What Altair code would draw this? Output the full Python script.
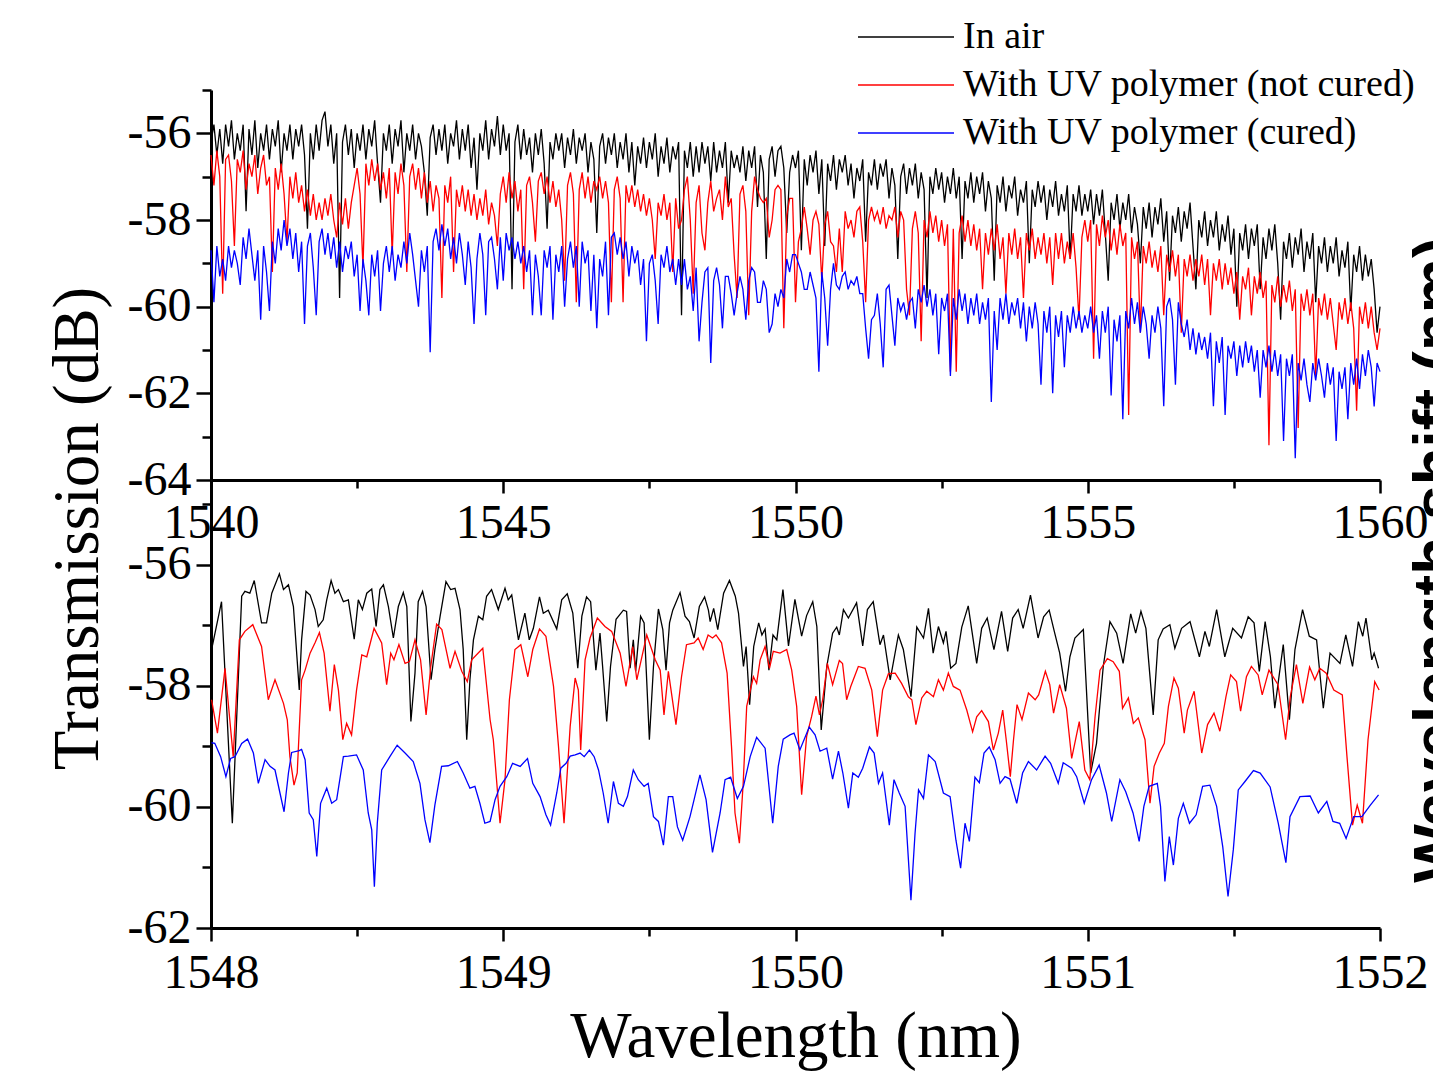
import altair as alt
import pandas as pd

FONT = "Liberation Serif"
SERIES = ["In air", "With UV polymer (not cured)", "With UV polymer (cured)"]
COLORS = ["#000000", "#ff0000", "#0000ff"]
RIGHT_LABEL = "Wavelength shift (nm)"
Y_TITLE = "Transmission (dB)"
X_TITLE = "Wavelength (nm)"

# ---------------- top panel: 1540-1560 nm, sampled every 0.05 nm ----------------
TOP_START = 1540.0
TOP_STEP = 0.05
TOP_AIR = [
    -56.2, -55.8, -56.5, -55.9, -56.7, -55.8, -56.3, -55.7, -56.6, -56.0, -56.4, -55.8, -57.8, -55.9, -56.5, -55.7, -56.8, -56.0, -56.4, -55.8,
    -56.6, -55.9, -56.3, -55.7, -56.9, -56.0, -56.4, -55.8, -56.6, -55.9, -56.3, -55.8, -56.5, -58.2, -56.0, -56.6, -55.8, -56.4, -55.7, -55.5,
    -56.3, -55.8, -56.7, -56.0, -59.8, -56.2, -55.8, -56.5, -55.9, -56.8, -56.0, -56.4, -55.8, -56.6, -55.9, -56.3, -55.7, -56.7, -57.6, -56.0,
    -56.4, -55.8, -56.7, -55.9, -56.3, -55.7, -56.9, -56.0, -56.4, -55.8, -56.6, -56.0, -56.3, -56.9, -57.9, -56.1, -55.8, -56.5, -55.9, -56.4,
    -55.8, -56.7, -56.0, -56.3, -55.7, -56.6, -55.9, -56.4, -55.8, -56.8, -56.1, -57.3, -56.0, -56.4, -55.7, -56.6, -55.9, -56.3, -55.6, -56.5,
    -55.8, -56.4, -56.0, -59.6, -56.2, -55.8, -56.6, -55.9, -56.5, -56.1, -56.9, -56.0, -56.5, -55.9, -56.7, -58.2, -56.2, -56.6, -56.0, -56.4,
    -56.0, -56.8, -56.1, -56.5, -55.9, -56.7, -56.1, -56.4, -56.0, -56.9, -56.2, -56.6, -58.3, -56.3, -56.0, -56.7, -56.1, -56.5, -56.0, -56.8,
    -56.2, -56.6, -56.0, -56.9, -56.2, -57.2, -56.3, -56.7, -56.1, -56.8, -56.2, -56.6, -56.0, -57.0, -56.3, -56.7, -56.1, -56.9, -56.3, -56.6,
    -56.2, -60.2, -56.4, -56.8, -56.2, -57.0, -56.3, -56.9, -56.2, -56.7, -56.3, -57.1, -56.2, -56.9, -56.4, -56.8, -56.2, -57.6, -56.4, -56.8,
    -56.5, -56.9, -56.3, -57.1, -56.4, -56.8, -56.3, -57.7, -56.5, -56.9, -58.9, -56.6, -56.3, -57.0, -56.4, -56.3, -56.8, -58.3, -56.9, -56.5,
    -56.8, -56.4, -58.7, -56.6, -57.2, -56.5, -56.9, -56.4, -57.4, -56.6, -58.6, -56.7, -57.1, -56.5, -57.3, -56.6, -56.9, -56.5, -57.2, -56.7,
    -57.5, -56.8, -57.1, -56.6, -58.5, -56.9, -57.2, -56.6, -57.3, -56.7, -57.0, -56.6, -57.5, -56.8, -57.2, -58.9, -57.0, -56.7, -57.4, -56.8,
    -57.2, -56.7, -57.5, -56.9, -57.3, -59.8, -57.0, -57.4, -56.8, -57.3, -56.9, -57.6, -57.0, -57.4, -56.8, -57.5, -57.0, -58.9, -57.1, -57.5,
    -56.9, -57.6, -57.0, -57.4, -56.9, -57.8, -57.1, -57.5, -59.4, -57.2, -57.6, -57.0, -57.8, -57.2, -57.5, -57.0, -57.9, -57.3, -57.6, -57.1,
    -59.0, -57.3, -57.7, -57.1, -57.6, -57.2, -58.0, -57.3, -57.7, -57.1, -57.9, -57.4, -57.8, -57.2, -58.9, -57.4, -57.8, -57.2, -57.9, -57.4,
    -57.8, -57.3, -58.1, -57.4, -57.9, -57.3, -58.3, -59.4, -57.6, -58.0, -57.4, -58.2, -57.6, -58.0, -57.4, -58.3, -57.7, -58.1, -59.0, -57.7,
    -58.2, -57.6, -58.4, -57.7, -58.1, -57.5, -58.5, -57.8, -59.4, -57.9, -58.3, -57.7, -58.5, -57.8, -58.2, -57.6, -58.6, -59.6, -58.0, -58.4,
    -57.8, -58.6, -58.0, -58.4, -57.8, -58.7, -58.1, -58.5, -57.9, -58.8, -58.2, -60.0, -58.3, -58.7, -58.1, -58.9, -58.2, -58.6, -58.1, -59.6,
    -58.4, -58.9, -58.2, -58.7, -58.1, -59.0, -60.3, -58.5, -58.9, -58.3, -59.1, -58.4, -58.8, -58.2, -59.2, -58.5, -58.9, -58.3, -59.9, -58.6,
    -59.0, -58.4, -59.2, -58.6, -59.0, -58.4, -59.3, -58.7, -59.1, -58.5, -60.1, -58.8, -59.2, -58.6, -59.4, -58.8, -59.3, -58.9, -59.6, -60.6,
    -60.0,
]
TOP_UNCURED = [
    -56.5, -57.2, -56.4, -57.0, -59.7, -56.6, -56.5, -57.1, -58.6, -56.6, -56.9, -56.4, -57.3, -56.7, -57.0, -56.5, -57.4, -56.8, -56.5, -57.2,
    -57.0, -59.2, -56.8, -57.3, -56.7, -57.4, -58.5, -57.0, -57.5, -56.9, -57.6, -57.2, -57.8, -57.3, -57.9, -57.4, -58.0, -57.6, -58.0, -57.5,
    -57.9, -57.4, -58.0, -58.4, -57.6, -58.1, -57.5, -58.2, -57.6, -57.2, -56.8, -57.4, -59.1, -56.7, -57.2, -56.6, -57.1, -56.7, -57.3, -56.9,
    -57.5, -56.8, -58.8, -56.9, -57.4, -56.7, -57.2, -59.2, -57.0, -56.7, -57.3, -56.8, -57.5, -56.9, -57.6, -57.1, -57.8, -57.2, -57.5, -59.8,
    -57.2, -57.6, -57.0, -59.2, -57.3, -57.7, -57.2, -57.8, -57.3, -57.9, -57.4, -58.0, -57.5, -57.9, -57.3, -58.1, -57.6, -57.9, -58.6, -57.4,
    -57.0, -57.6, -56.9, -57.5, -57.1, -57.8, -57.3, -59.6, -57.2, -57.0, -57.6, -58.5, -57.1, -56.9, -57.4, -57.0, -57.6, -57.1, -57.7, -57.3,
    -58.0, -59.4, -57.2, -56.9, -57.4, -59.9, -57.3, -56.9, -57.5, -57.0, -57.6, -57.1, -57.3, -57.0, -57.5, -57.1, -57.6, -59.9, -57.3, -57.0,
    -57.5, -59.9, -57.2, -57.6, -57.2, -57.7, -57.3, -57.8, -57.4, -57.9, -57.5, -58.0, -58.9, -57.6, -57.9, -57.4, -58.0, -57.6, -59.2, -57.5,
    -58.2, -58.0, -57.3, -57.0, -58.0, -59.7, -57.6, -57.2, -58.3, -58.7, -57.6, -57.1, -57.8, -57.5, -57.3, -58.0, -57.0, -57.7, -57.5, -58.8,
    -59.8, -57.4, -57.2, -57.8, -60.2, -57.8, -57.0, -57.3, -57.5, -57.6, -57.5, -58.4, -58.0, -57.3, -57.2, -57.3, -60.5, -57.9, -57.5, -57.5,
    -59.9, -58.5, -58.2, -57.7, -58.2, -58.8, -58.0, -57.8, -58.1, -59.4, -58.1, -57.8, -58.5, -58.6, -59.2, -58.2, -59.2, -57.8, -58.2, -58.0,
    -58.4, -57.8, -57.7, -58.5, -59.9, -58.0, -57.7, -58.0, -57.8, -58.1, -57.7, -58.2, -57.9, -58.0, -57.7, -58.4, -57.8, -58.0, -59.6, -60.2,
    -58.2, -57.8, -58.3, -60.8, -58.0, -58.4, -57.8, -58.3, -57.9, -58.5, -58.0, -58.6, -58.1, -61.5, -58.2, -61.5, -58.3, -57.9, -58.5, -58.0,
    -58.6, -58.1, -58.7, -58.2, -59.6, -58.3, -58.8, -58.2, -58.7, -58.1, -58.9, -58.4, -59.7, -58.3, -58.8, -58.2, -58.9, -58.4, -59.8, -58.3,
    -58.7, -58.2, -58.9, -58.4, -58.8, -58.3, -59.0, -58.4, -59.5, -58.3, -58.9, -58.3, -59.0, -58.5, -58.9, -58.3, -59.1, -60.3, -58.4, -58.0,
    -58.5, -58.0, -61.2, -58.1, -58.6, -57.9, -58.4, -58.0, -58.7, -58.2, -58.8, -58.1, -58.6, -58.3, -62.5, -58.4, -58.9, -58.5, -60.6, -58.6,
    -59.0, -58.5, -59.1, -58.7, -59.2, -58.6, -60.2, -58.8, -59.2, -58.7, -59.3, -58.8, -60.6, -58.9, -59.3, -58.8, -59.4, -58.9, -59.3, -58.8,
    -59.5, -58.9, -60.2, -59.0, -59.4, -58.9, -59.6, -59.0, -59.5, -59.1, -59.7, -59.2, -60.3, -59.3, -59.6, -59.1, -60.2, -59.3, -59.7, -59.2,
    -59.8, -59.4, -63.2, -59.5, -59.9, -59.3, -60.0, -59.5, -59.9, -59.4, -60.1, -59.6, -62.8, -59.7, -60.1, -59.6, -60.2, -59.7, -61.6, -59.8,
    -60.2, -59.7, -60.3, -59.8, -60.4, -61.0, -59.9, -60.3, -59.8, -60.4, -59.9, -60.5, -62.4, -60.0, -60.4, -59.9, -60.5, -60.0, -60.6, -61.0,
    -60.5,
]
TOP_CURED = [
    -58.7, -59.9, -58.6, -59.3, -58.9, -59.4, -58.6, -59.1, -58.7, -59.0, -59.5, -58.4, -58.9, -58.2, -58.8, -59.4, -58.7, -60.3, -58.6, -59.2,
    -60.1, -58.5, -59.0, -58.2, -58.7, -58.0, -58.6, -58.2, -58.9, -58.3, -59.2, -58.5, -60.4, -58.6, -58.3, -59.1, -60.2, -58.5, -58.2, -58.8,
    -58.3, -58.9, -58.4, -59.1, -58.5, -59.2, -58.6, -58.9, -58.5, -59.3, -58.8, -60.1, -58.9, -59.4, -60.2, -58.8, -59.3, -58.7, -60.1, -59.0,
    -58.6, -59.2, -58.6, -59.4, -58.8, -59.1, -58.5, -59.0, -58.3, -58.8, -59.4, -60.0, -58.7, -59.2, -58.6, -61.05, -58.5, -58.2, -58.7, -58.1,
    -58.6, -58.2, -58.9, -58.4, -59.0, -58.3, -58.8, -59.5, -58.5, -59.1, -60.4, -58.9, -58.3, -58.8, -60.2, -58.5, -58.4, -58.9, -59.6, -58.4,
    -59.4, -58.3, -58.7, -58.4, -58.9, -58.5, -59.0, -58.6, -59.2, -58.7, -60.2, -58.8, -59.3, -60.2, -58.7, -59.1, -58.6, -60.3, -58.8, -59.2,
    -58.6, -60.0, -58.9, -58.5, -59.1, -58.6, -60.0, -58.5, -59.0, -58.7, -60.1, -58.8, -60.5, -58.9, -59.3, -58.5, -60.2, -58.4, -58.3, -58.8,
    -58.4, -58.9, -58.5, -59.3, -58.6, -59.0, -58.7, -59.5, -58.9, -60.8, -59.0, -58.8, -59.4, -60.4, -58.8, -59.1, -58.6, -59.2, -58.9, -59.5,
    -58.9, -59.5, -58.9, -59.6, -59.3, -60.1, -59.1, -60.8, -59.9, -59.2, -59.1, -61.3, -59.4, -59.1, -59.5, -60.5, -59.3, -59.3, -59.7, -60.2,
    -59.7, -59.3, -59.6, -60.3, -59.4, -59.1, -59.2, -59.9, -59.9, -59.4, -59.6, -60.6, -60.4, -59.7, -60.0, -59.6, -59.8, -58.9, -59.2, -58.8,
    -58.8, -59.0, -59.2, -59.6, -59.6, -59.2, -59.5, -59.8, -61.5, -59.2, -59.8, -60.9, -59.6, -59.0, -59.5, -59.6, -59.3, -59.2, -59.6, -59.4,
    -59.5, -59.3, -59.7, -59.7, -60.5, -61.2, -60.3, -60.2, -59.7, -60.4, -61.4, -59.6, -59.5, -60.2, -60.9, -59.8, -60.1, -59.9, -60.3, -59.9,
    -59.8, -60.5, -59.6, -59.9, -59.5, -60.0, -59.6, -60.2, -59.7, -61.1, -59.8, -60.1, -59.7, -61.6, -59.8, -60.3, -59.6, -60.1, -59.7, -60.4,
    -59.8, -60.2, -59.7, -60.4, -59.9, -60.3, -59.8, -62.2, -60.1, -61.0, -59.8, -60.3, -59.7, -60.4, -59.9, -60.2, -59.8, -60.5, -59.9, -60.8,
    -60.0, -60.5, -59.9, -60.4, -61.8, -60.1, -60.6, -60.0, -62.0, -60.2, -60.7, -60.1, -61.4, -60.2, -60.6, -60.0, -60.5, -60.1, -60.6, -60.2,
    -60.5, -60.0, -60.6, -60.2, -61.2, -60.1, -60.6, -60.0, -62.05, -60.3, -60.8, -60.2, -62.6, -60.1, -60.5, -59.8, -60.4, -59.9, -60.6, -60.0,
    -60.4, -61.2, -60.2, -60.6, -60.0, -60.5, -62.3, -60.0, -59.8, -60.3, -61.8, -59.9, -60.4, -60.7, -60.3, -61.0, -60.5, -61.1, -60.6, -61.0,
    -60.7, -61.2, -60.6, -62.3, -60.8, -61.3, -60.7, -62.5, -60.9, -61.2, -60.8, -61.6, -60.9, -61.4, -60.8, -61.3, -60.9, -61.5, -61.0, -62.1,
    -61.0, -61.4, -60.9, -61.5, -61.0, -61.6, -61.1, -63.1, -61.2, -61.6, -61.1, -63.5, -61.3, -61.7, -61.2, -61.8, -62.2, -61.3, -61.7, -61.2,
    -61.6, -62.1, -61.3, -61.8, -61.4, -63.1, -61.5, -61.9, -61.4, -62.6, -61.3, -61.8, -61.2, -61.9, -61.1, -61.6, -61.0, -61.4, -62.3, -61.3,
    -61.5,
]

# ---------------- bottom panel: zoom 1548-1552 nm ----------------
ZOOM_AIR_WL = [
    1548.002, 1548.036, 1548.073, 1548.105, 1548.116, 1548.133, 1548.148, 1548.173, 1548.190, 1548.208, 1548.234, 1548.248, 1548.265, 1548.282,
    1548.302, 1548.310, 1548.325, 1548.339, 1548.356, 1548.367, 1548.384, 1548.396, 1548.411, 1548.424, 1548.436, 1548.453, 1548.470, 1548.490,
    1548.504, 1548.518, 1548.533, 1548.550, 1548.565, 1548.578, 1548.590, 1548.607, 1548.624, 1548.641, 1548.658, 1548.670, 1548.684, 1548.698,
    1548.709, 1548.724, 1548.736, 1548.753, 1548.766, 1548.784, 1548.804, 1548.820, 1548.835, 1548.852, 1548.863, 1548.875, 1548.886, 1548.898,
    1548.915, 1548.930, 1548.943, 1548.960, 1548.983,
    1549.006, 1549.017, 1549.029, 1549.052, 1549.074, 1549.089, 1549.103, 1549.124, 1549.137, 1549.154, 1549.183, 1549.200, 1549.219, 1549.238,
    1549.255, 1549.269, 1549.285, 1549.299, 1549.317, 1549.331, 1549.340, 1549.354, 1549.367, 1549.386, 1549.411, 1549.422, 1549.434, 1549.445,
    1549.453, 1549.470, 1549.482, 1549.500, 1549.514, 1549.531, 1549.546, 1549.557, 1549.569, 1549.580, 1549.605, 1549.622, 1549.637, 1549.653,
    1549.671, 1549.689, 1549.702, 1549.708, 1549.720, 1549.734, 1549.754, 1549.774, 1549.794, 1549.805, 1549.822, 1549.831, 1549.843, 1549.857,
    1549.874, 1549.885, 1549.896, 1549.909, 1549.923, 1549.936, 1549.957, 1549.976, 1549.998,
    1550.021, 1550.038, 1550.059, 1550.073, 1550.088, 1550.107, 1550.127, 1550.141, 1550.150, 1550.164, 1550.181, 1550.209, 1550.230, 1550.246,
    1550.266, 1550.289, 1550.301, 1550.324, 1550.352, 1550.369, 1550.395, 1550.415, 1550.438, 1550.455, 1550.471, 1550.489, 1550.506, 1550.515,
    1550.531, 1550.549, 1550.569, 1550.591, 1550.620, 1550.637, 1550.656, 1550.679, 1550.705, 1550.726, 1550.743, 1550.762, 1550.779, 1550.804,
    1550.830, 1550.849, 1550.868, 1550.887, 1550.904, 1550.924, 1550.939,
    1550.956, 1550.985, 1551.010, 1551.030, 1551.053, 1551.076, 1551.099, 1551.121, 1551.147, 1551.164, 1551.182, 1551.199, 1551.224, 1551.241,
    1551.258, 1551.281, 1551.298, 1551.321, 1551.350, 1551.382, 1551.401, 1551.416, 1551.441, 1551.469, 1551.496, 1551.526, 1551.549, 1551.569,
    1551.587, 1551.607, 1551.625, 1551.640, 1551.669, 1551.690, 1551.709, 1551.735, 1551.758, 1551.783, 1551.806, 1551.829, 1551.863, 1551.883,
    1551.906, 1551.926, 1551.941, 1551.952, 1551.972, 1551.980, 1551.995,
]
ZOOM_AIR = [
    -57.40, -56.61, -60.27, -56.52, -56.44, -56.47, -56.26, -56.96, -56.96, -56.47, -56.15, -56.41, -56.33, -56.69,
    -58.07, -57.24, -56.44, -56.50, -56.74, -57.02, -56.91, -56.58, -56.26, -56.47, -56.41, -56.61, -56.58, -57.23,
    -56.58, -56.74, -56.47, -56.40, -57.02, -56.41, -56.33, -56.69, -57.21, -56.69, -56.46, -56.69, -58.59, -57.79,
    -56.61, -56.44, -56.69, -57.90, -57.40, -56.85, -56.28, -56.41, -56.39, -56.74, -57.40, -58.89, -57.90, -57.24,
    -56.85, -56.91, -56.52, -56.41, -56.74,
    -56.39, -56.58, -56.50, -57.24, -56.80, -57.24, -57.05, -56.53, -56.80, -56.75, -57.06, -56.58, -56.48, -56.80,
    -57.71, -56.85, -56.53, -56.61, -57.74, -57.13, -57.68, -58.59, -57.68, -56.90, -56.75, -56.77, -57.71, -57.24,
    -57.76, -56.85, -56.96, -58.89, -57.68, -56.73, -57.07, -57.74, -56.96, -56.75, -56.46, -56.85, -56.94, -57.21,
    -56.69, -56.53, -56.75, -56.94, -56.72, -57.07, -56.47, -56.26, -56.52, -56.80, -57.68, -57.35, -58.31, -57.35,
    -56.96, -57.16, -57.06, -57.74, -57.16, -57.24, -56.41, -57.34, -56.57,
    -57.18, -56.84, -56.61, -57.02, -58.73, -57.68, -57.13, -57.03, -57.16, -56.74, -56.88, -56.63, -57.34, -56.74,
    -56.61, -57.32, -57.16, -57.90, -57.16, -57.40, -58.18, -57.03, -57.21, -56.72, -57.46, -57.02, -57.29, -57.10,
    -57.71, -57.63, -57.03, -56.68, -57.63, -57.05, -56.88, -57.40, -56.77, -57.43, -56.88, -56.74, -57.05, -56.50,
    -57.21, -56.86, -56.75, -57.13, -57.46, -58.09, -57.52,
    -57.21, -57.07, -59.44, -58.95, -57.68, -56.94, -57.13, -57.63, -56.81, -57.13, -56.77, -57.05, -58.48, -57.24,
    -57.06, -56.99, -57.38, -57.05, -56.94, -57.52, -57.10, -57.35, -56.74, -57.52, -57.05, -57.21, -56.86, -56.96,
    -57.76, -56.94, -57.52, -58.37, -57.32, -58.56, -57.40, -56.74, -57.18, -57.24, -58.37, -57.46, -57.63, -57.16,
    -57.68, -56.94, -57.18, -56.88, -57.57, -57.46, -57.71,
]

ZOOM_UNCURED_WL = [
    1548.002, 1548.022, 1548.048, 1548.076, 1548.097, 1548.116, 1548.143, 1548.173, 1548.196, 1548.219, 1548.248, 1548.261, 1548.270, 1548.284,
    1548.295, 1548.310, 1548.322, 1548.339, 1548.356, 1548.371, 1548.387, 1548.407, 1548.422, 1548.436, 1548.451, 1548.464, 1548.481, 1548.498,
    1548.516, 1548.533, 1548.558, 1548.584, 1548.601, 1548.615, 1548.626, 1548.643, 1548.664, 1548.679, 1548.698, 1548.717, 1548.736, 1548.752,
    1548.772, 1548.790, 1548.818, 1548.835, 1548.858, 1548.877, 1548.892, 1548.930, 1548.955, 1548.966, 1548.989,
    1549.006, 1549.021, 1549.040, 1549.060, 1549.084, 1549.101, 1549.124, 1549.146, 1549.172, 1549.189, 1549.208, 1549.229, 1549.246, 1549.257,
    1549.265, 1549.280, 1549.297, 1549.322, 1549.348, 1549.371, 1549.400, 1549.420, 1549.443, 1549.457, 1549.491, 1549.520, 1549.537, 1549.550,
    1549.565, 1549.591, 1549.610, 1549.627, 1549.653, 1549.667, 1549.684, 1549.701, 1549.716, 1549.728, 1549.747, 1549.766, 1549.781, 1549.793,
    1549.808, 1549.821, 1549.833, 1549.856, 1549.867, 1549.879, 1549.896, 1549.911, 1549.924, 1549.947, 1549.970, 1549.987,
    1550.004, 1550.021, 1550.038, 1550.055, 1550.070, 1550.082, 1550.093, 1550.109, 1550.127, 1550.150, 1550.161, 1550.175, 1550.189, 1550.215,
    1550.238, 1550.261, 1550.280, 1550.298, 1550.318, 1550.341, 1550.363, 1550.386, 1550.398, 1550.412, 1550.432, 1550.449, 1550.472, 1550.489,
    1550.506, 1550.523, 1550.540, 1550.563, 1550.586, 1550.606, 1550.620, 1550.637, 1550.660, 1550.677, 1550.694, 1550.709, 1550.721, 1550.735,
    1550.746, 1550.758, 1550.775, 1550.797, 1550.820, 1550.832, 1550.855, 1550.870, 1550.883, 1550.904, 1550.927, 1550.945, 1550.971, 1550.990,
    1551.007, 1551.025, 1551.042, 1551.067, 1551.087, 1551.108, 1551.119, 1551.139, 1551.156, 1551.173, 1551.196, 1551.213, 1551.227, 1551.245,
    1551.262, 1551.276, 1551.295, 1551.310, 1551.330, 1551.341, 1551.364, 1551.390, 1551.410, 1551.432, 1551.452, 1551.473, 1551.489, 1551.509,
    1551.523, 1551.543, 1551.560, 1551.583, 1551.597, 1551.620, 1551.651, 1551.677, 1551.693, 1551.714, 1551.736, 1551.759, 1551.777, 1551.794,
    1551.816, 1551.842, 1551.871, 1551.887, 1551.906, 1551.922, 1551.940, 1551.959, 1551.982, 1551.997,
]
ZOOM_UNCURED = [
    -58.23, -58.78, -57.71, -59.17, -57.24, -57.10, -56.99, -57.35, -58.23, -57.90, -58.29, -58.56, -59.17, -59.64,
    -59.44, -57.90, -57.74, -57.46, -57.29, -57.12, -57.46, -58.42, -57.65, -58.07, -58.89, -58.62, -58.81, -58.07,
    -57.49, -57.52, -57.05, -57.29, -57.98, -57.46, -57.57, -57.32, -57.63, -57.60, -57.24, -57.57, -58.48, -57.68,
    -56.98, -57.07, -57.71, -57.43, -57.76, -57.93, -57.57, -57.38, -58.56, -58.89, -60.27,
    -59.55, -58.23, -57.40, -57.32, -57.85, -57.40, -57.06, -57.18, -58.01, -59.00, -60.27, -58.67, -57.87, -58.07,
    -59.06, -57.57, -57.21, -56.88, -57.02, -57.10, -57.46, -58.01, -57.35, -57.90, -57.16, -57.57, -57.74, -58.48,
    -57.76, -58.64, -57.85, -57.32, -57.29, -57.21, -57.40, -57.16, -57.21, -57.16, -57.29, -57.79, -59.00, -60.10,
    -60.60, -59.61, -58.34, -57.85, -57.96, -57.57, -57.35, -57.71, -57.43, -57.46, -57.40, -57.74,
    -58.34, -59.80, -58.84, -58.51, -58.17, -58.48, -58.23, -57.63, -57.98, -57.58, -57.63, -58.23, -58.01, -57.68,
    -57.71, -58.07, -58.84, -58.07, -57.80, -57.79, -57.96, -58.18, -58.23, -58.64, -58.20, -58.09, -58.18, -57.90,
    -58.07, -57.79, -58.01, -58.07, -58.40, -58.76, -58.51, -58.41, -58.59, -59.06, -58.78, -58.40, -58.89, -59.50,
    -58.89, -58.31, -58.56, -58.12, -58.23, -58.15, -57.76, -57.98, -58.45, -57.98, -58.37, -59.20, -58.59, -59.39,
    -59.55, -58.51, -57.74, -57.55, -57.60, -57.76, -58.37, -58.20, -58.62, -58.53, -58.89, -59.94, -59.33, -59.11,
    -58.95, -58.34, -57.87, -58.04, -58.78, -58.40, -58.09, -59.11, -58.64, -58.45, -58.75, -58.18, -57.82, -57.93,
    -58.42, -57.85, -57.68, -57.82, -58.15, -57.74, -57.98, -58.89, -58.18, -57.65, -58.29, -57.69, -57.90, -57.71,
    -57.79, -58.07, -58.15, -59.17, -60.30, -59.97, -60.27, -58.89, -57.93, -58.07,
]

ZOOM_CURED_WL = [
    1548.002, 1548.013, 1548.033, 1548.051, 1548.067, 1548.082, 1548.105, 1548.125, 1548.145, 1548.162, 1548.185, 1548.202, 1548.219, 1548.236,
    1548.250, 1548.265, 1548.276, 1548.302, 1548.310, 1548.322, 1548.336, 1548.350, 1548.362, 1548.375, 1548.396, 1548.413, 1548.430, 1548.453,
    1548.470, 1548.498, 1548.521, 1548.538, 1548.550, 1548.559, 1548.569, 1548.584, 1548.612, 1548.637, 1548.664, 1548.692, 1548.715, 1548.732,
    1548.749, 1548.766, 1548.789, 1548.812, 1548.843, 1548.863, 1548.886, 1548.903, 1548.920, 1548.937, 1548.955, 1548.972, 1548.989,
    1549.012, 1549.032, 1549.058, 1549.083, 1549.101, 1549.126, 1549.146, 1549.162, 1549.183, 1549.197, 1549.215, 1549.229, 1549.246, 1549.263,
    1549.277, 1549.295, 1549.311, 1549.326, 1549.342, 1549.359, 1549.377, 1549.394, 1549.411, 1549.425, 1549.445, 1549.462, 1549.482, 1549.496,
    1549.514, 1549.531, 1549.548, 1549.565, 1549.580, 1549.596, 1549.614, 1549.639, 1549.653, 1549.673, 1549.694, 1549.716, 1549.742, 1549.759,
    1549.778, 1549.801, 1549.822, 1549.845, 1549.867, 1549.896, 1549.922, 1549.941, 1549.958, 1549.981, 1549.995,
    1550.015, 1550.047, 1550.067, 1550.084, 1550.107, 1550.127, 1550.147, 1550.162, 1550.181, 1550.196, 1550.215, 1550.230, 1550.253, 1550.269,
    1550.284, 1550.298, 1550.321, 1550.337, 1550.355, 1550.375, 1550.395, 1550.409, 1550.421, 1550.438, 1550.455, 1550.478, 1550.506, 1550.529,
    1550.549, 1550.565, 1550.580, 1550.595, 1550.614, 1550.629, 1550.645, 1550.663, 1550.683, 1550.700, 1550.717, 1550.734, 1550.757, 1550.777,
    1550.797, 1550.825, 1550.854, 1550.873, 1550.899, 1550.916, 1550.945, 1550.962, 1550.988,
    1551.013, 1551.039, 1551.064, 1551.082, 1551.110, 1551.130, 1551.155, 1551.176, 1551.192, 1551.210, 1551.238, 1551.249, 1551.264, 1551.279,
    1551.293, 1551.310, 1551.327, 1551.348, 1551.371, 1551.393, 1551.418, 1551.441, 1551.462, 1551.480, 1551.498, 1551.515, 1551.538, 1551.567,
    1551.590, 1551.624, 1551.652, 1551.678, 1551.692, 1551.726, 1551.761, 1551.789, 1551.818, 1551.839, 1551.862, 1551.884, 1551.910, 1551.938,
    1551.967, 1551.995,
]
ZOOM_CURED = [
    -58.94, -58.95, -59.17, -59.50, -59.20, -59.17, -58.95, -58.88, -59.11, -59.61, -59.22, -59.33, -59.39, -59.77,
    -60.08, -59.44, -59.10, -59.07, -59.05, -59.22, -60.10, -60.21, -60.82, -59.94, -59.69, -59.94, -59.88, -59.17,
    -59.16, -59.14, -59.39, -60.10, -60.38, -61.32, -60.27, -59.39, -59.17, -58.98, -59.11, -59.25, -59.61, -60.21,
    -60.59, -59.97, -59.33, -59.32, -59.25, -59.44, -59.69, -59.66, -59.94, -60.27, -60.24, -59.88, -59.66,
    -59.50, -59.28, -59.33, -59.20, -59.61, -59.83, -60.13, -60.30, -59.77, -59.36, -59.28, -59.16, -59.14, -59.11,
    -59.17, -59.06, -59.17, -59.39, -59.77, -60.27, -59.58, -59.94, -59.99, -59.83, -59.39, -59.55, -59.66, -59.61,
    -60.16, -60.24, -60.63, -59.83, -59.83, -60.33, -60.55, -60.16, -59.88, -59.47, -59.88, -60.75, -60.10, -59.55,
    -59.51, -59.86, -59.66, -59.17, -58.85, -59.03, -60.27, -59.33, -58.88, -58.81, -58.78,
    -59.06, -58.68, -58.81, -59.08, -59.03, -59.54, -59.08, -59.44, -60.02, -59.44, -59.51, -59.36, -59.01, -59.11,
    -59.61, -59.44, -60.30, -59.55, -59.77, -59.99, -61.54, -60.44, -59.72, -59.86, -59.14, -59.25, -59.77, -59.83,
    -60.55, -61.01, -60.27, -60.57, -59.51, -59.60, -59.11, -59.01, -59.22, -59.61, -59.50, -59.54, -59.94, -59.44,
    -59.25, -59.39, -59.16, -59.28, -59.61, -59.27, -59.36, -59.50, -59.94,
    -59.55, -59.31, -59.77, -60.24, -59.55, -59.75, -60.10, -60.57, -59.99, -59.66, -59.61, -59.99, -61.23, -60.49,
    -60.96, -60.19, -59.94, -60.27, -60.13, -59.66, -59.64, -59.99, -60.66, -61.48, -60.71, -59.72, -59.58, -59.40,
    -59.44, -59.67, -60.27, -60.92, -60.16, -59.83, -59.82, -60.10, -59.91, -60.24, -60.27, -60.52, -60.16, -60.16,
    -59.97, -59.80,
]

TOP_X_TICKS = [1540, 1542.5, 1545, 1547.5, 1550, 1552.5, 1555, 1557.5, 1560]
TOP_Y_TICKS = [-64, -63, -62, -61, -60, -59, -58, -57, -56, -55]
BOT_X_TICKS = [1548, 1548.5, 1549, 1549.5, 1550, 1550.5, 1551, 1551.5, 1552]
BOT_Y_TICKS = [-62, -61, -60, -59, -58, -57, -56, -55]


def frame(wl, vals, name):
    n = min(len(wl), len(vals))
    return pd.DataFrame({"wl": wl[:n], "val": vals[:n], "series": [name] * n})


def grid(vals):
    return [round(TOP_START + TOP_STEP * i, 2) for i in range(len(vals))]


color_scale = alt.Scale(domain=SERIES, range=COLORS)
axis_style = dict(
    domainColor="black", domainWidth=3, tickColor="black", tickWidth=2.5,
    labelFont=FONT, labelFontSize=48, labelColor="black", grid=False,
    labelFlush=False, labelOverlap=False,
)

x_top_axis = alt.Axis(
    values=TOP_X_TICKS, title=None,
    labelExpr="datum.value % 5 === 0 ? '' + datum.value : ''",
    tickSize={"condition": {"test": "datum.value % 5 !== 0", "value": 8}, "value": 13},
    labelPadding=6, **axis_style)
y_top_axis = alt.Axis(
    values=TOP_Y_TICKS, title=Y_TITLE,
    labelExpr="datum.value % 2 === 0 ? '' + datum.value : ''",
    tickSize={"condition": {"test": "datum.value % 2 !== 0", "value": 9}, "value": 15},
    labelPadding=5, titleX=-114, titleY=438, titleAngle=270, titleAlign="center",
    titleBaseline="alphabetic", titleFont=FONT, titleFontSize=65, titleFontWeight="normal",
    titleColor="black", **axis_style)
x_bot_axis = alt.Axis(
    values=BOT_X_TICKS, title=X_TITLE,
    labelExpr="datum.value % 1 === 0 ? '' + datum.value : ''",
    tickSize={"condition": {"test": "datum.value % 1 !== 0", "value": 8}, "value": 13},
    labelPadding=8, titleFont=FONT, titleFontSize=65, titleFontWeight="normal",
    titleColor="black", titlePadding=8, **axis_style)
y_bot_axis = alt.Axis(
    values=BOT_Y_TICKS, title=None,
    labelExpr="datum.value % 2 === 0 ? '' + datum.value : ''",
    tickSize={"condition": {"test": "datum.value % 2 !== 0", "value": 9}, "value": 15},
    labelPadding=5, **axis_style)

legend = alt.Legend(
    title=None, orient="none", legendX=676, legendY=-72, symbolType="M-4,0H4",
    symbolSize=576, symbolStrokeWidth=1.5, labelFont=FONT, labelFontSize=38,
    labelColor="black", labelLimit=1000, labelOffset=38, rowPadding=10, padding=0,
)


def lines(frames, xdom, ydom, xaxis, yaxis, leg):
    layers = []
    for df in frames:
        layers.append(
            alt.Chart(df).mark_line(strokeWidth=1.3).encode(
                x=alt.X("wl:Q", scale=alt.Scale(domain=xdom, nice=False, zero=False), axis=xaxis),
                y=alt.Y("val:Q", scale=alt.Scale(domain=ydom, nice=False, zero=False), axis=yaxis),
                color=alt.Color("series:N", scale=color_scale, legend=leg),
            )
        )
    return layers


top_frames = [
    frame(grid(TOP_AIR), TOP_AIR, SERIES[0]),
    frame(grid(TOP_UNCURED), TOP_UNCURED, SERIES[1]),
    frame(grid(TOP_CURED), TOP_CURED, SERIES[2]),
]
bot_frames = [
    frame(ZOOM_AIR_WL, ZOOM_AIR, SERIES[0]),
    frame(ZOOM_UNCURED_WL, ZOOM_UNCURED, SERIES[1]),
    frame(ZOOM_CURED_WL, ZOOM_CURED, SERIES[2]),
]

top = alt.layer(
    *lines(top_frames, [1540, 1560], [-64, -55], x_top_axis, y_top_axis, legend),
).properties(width=1169, height=390)

bottom = alt.layer(
    *lines(bot_frames, [1548, 1552], [-62, -54.6], x_bot_axis, y_bot_axis, None),
).properties(width=1169, height=448)


def side_strip(ypos, height):
    # narrow clipped strip at the right edge: only the left edge of the rotated label shows
    return alt.Chart(pd.DataFrame({"t": [RIGHT_LABEL]})).mark_text(
        angle=270, font="Liberation Sans", fontWeight="bold", fontSize=62,
        align="center", baseline="alphabetic", color="black", clip=True,
    ).encode(text="t:N", x=alt.value(76), y=alt.value(ypos)).properties(width=53, height=height)


chart = (
    alt.concat(top, side_strip(470, 390), bottom, side_strip(80, 448),
               columns=2, spacing=0, bounds="flush")
    .resolve_scale(color="independent")
    .resolve_legend(color="independent")
    .properties(padding={"left": 45, "top": 18, "right": 0, "bottom": 5}, background="white")
    .configure_view(stroke=None)
)

chart.save("out.html", embed_options={"renderer": "svg", "actions": False})
